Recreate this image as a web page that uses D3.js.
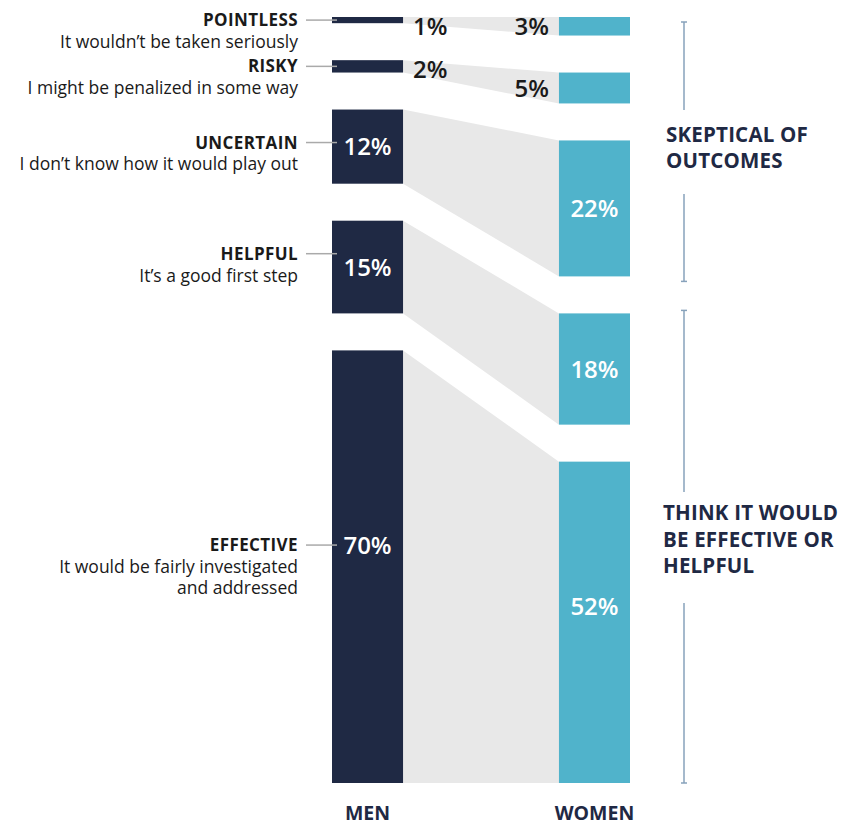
<!DOCTYPE html>
<html>
<head>
<meta charset="utf-8">
<script src="https://cdn.jsdelivr.net/npm/d3@7"></script>
<style>
  html, body { margin: 0; padding: 0; background: #fff; }
  svg { display: block; font-family: "Open Sans", Lato, sans-serif; }
</style>
</head>
<body>
<svg id="chart" width="847" height="824"></svg>
<script>
// ---- data ----
const categories = ["POINTLESS", "RISKY", "UNCERTAIN", "HELPFUL", "EFFECTIVE"];
const descriptions = [
  ["It wouldn’t be taken seriously"],
  ["I might be penalized in some way"],
  ["I don’t know how it would play out"],
  ["It’s a good first step"],
  ["It would be fairly investigated", "and addressed"]
];
const men = [1, 2, 12, 15, 70];
const women = [3, 5, 22, 18, 52];
const groups = ["MEN", "WOMEN"];
const bracketLabels = [["SKEPTICAL OF", "OUTCOMES"], ["THINK IT WOULD", "BE EFFECTIVE OR", "HELPFUL"]];
const bracketMembers = [[0, 1, 2], [3, 4]];

(function () {
// ---- layout ----
const svg = d3.select("#chart");
const topY = 17, bottomY = 783, gap = 37;
const navy = "#1f2944", teal = "#50b3cb", band = "#e8e8e8", ink = "#1a1a1a";

const x = d3.scaleBand().domain(groups).range([332, 630]).paddingInner(0.687).paddingOuter(0);
const h = d3.scaleLinear().domain([0, 100]).range([0, (bottomY - topY) - gap * (categories.length - 1)]);

function stack(vals) {
  let y = topY;
  return vals.map((v, i) => {
    const s = { i, v, y0: y, y1: y + h(v) };
    y = s.y1 + gap;
    return s;
  });
}
const series = [stack(men), stack(women)];
const maxIdx = series.map(s => d3.maxIndex(s, d => d.v));
function labelY(sIdx, d) {
  const f = d.i === maxIdx[sIdx] ? 0.45 : 0.5;
  return d.y0 + (d.y1 - d.y0) * f;
}

const xm0 = x("MEN") + x.bandwidth();
const xw0 = x("WOMEN");

// connecting bands
svg.append("g").selectAll("path")
  .data(categories.map((c, i) => [series[0][i], series[1][i]]))
  .join("path")
  .attr("d", ([m, w]) => `M${xm0},${m.y0}L${xw0},${w.y0}L${xw0},${w.y1}L${xm0},${m.y1}Z`)
  .attr("fill", band);

// bars
groups.forEach((g, gi) => {
  svg.append("g").selectAll("rect")
    .data(series[gi])
    .join("rect")
    .attr("x", x(g))
    .attr("width", x.bandwidth())
    .attr("y", d => d.y0)
    .attr("height", d => d.y1 - d.y0)
    .attr("fill", gi === 0 ? navy : teal);
});

// value labels
const valFont = 24;
series.forEach((s, gi) => {
  svg.append("g").selectAll("text")
    .data(s)
    .join("text")
    .attr("font-size", valFont)
    .attr("font-weight", 600)
    .each(function (d) {
      const t = d3.select(this);
      const hgt = d.y1 - d.y0;
      const inside = hgt > 40;
      if (inside) {
        t.attr("x", x(groups[gi]) + x.bandwidth() / 2)
          .attr("y", labelY(gi, d))
          .attr("dy", "0.36em")
          .attr("text-anchor", "middle")
          .attr("fill", "#fff");
      } else if (gi === 0) {
        t.attr("x", xm0 + 10)
          .attr("y", d.y0 + 18)
          .attr("text-anchor", "start")
          .attr("fill", ink);
      } else {
        t.attr("x", xw0 - 10)
          .attr("y", (d.y0 + d.y1) / 2)
          .attr("dy", "0.36em")
          .attr("text-anchor", "end")
          .attr("fill", ink);
      }
      t.text(d.v + "%");
    });
});

// category labels + leader lines
const catG = svg.append("g");
series[0].forEach((d, i) => {
  const y = d.i === maxIdx[0] ? labelY(0, d) : Math.min(labelY(0, d), d.y0 + 33);
  catG.append("line")
    .attr("x1", 306).attr("x2", 337)
    .attr("y1", y).attr("y2", y)
    .attr("stroke", "#aaaaaa").attr("stroke-width", 1.5);
  const t = catG.append("text")
    .attr("x", 298)
    .attr("text-anchor", "end")
    .attr("fill", ink);
  t.append("tspan")
    .attr("x", 298).attr("y", y).attr("dy", "0.36em")
    .attr("font-size", 17).attr("font-weight", 700)
    .attr("letter-spacing", 0.4)
    .text(categories[i]);
  descriptions[i].forEach((line, li) => {
    t.append("tspan")
      .attr("x", 298).attr("y", y + 21.5 * (li + 1)).attr("dy", "0.36em")
      .attr("font-size", 17.5).attr("font-weight", 400)
      .attr("letter-spacing", 0)
      .text(line);
  });
});

// group axis labels
svg.append("g").selectAll("text")
  .data(groups)
  .join("text")
  .attr("x", d => x(d) + x.bandwidth() / 2)
  .attr("y", 813)
  .attr("dy", "0.36em")
  .attr("text-anchor", "middle")
  .attr("font-size", 19.5)
  .attr("font-weight", 700)
  .attr("fill", navy)
  .text(d => d);

// brackets
const bx = 684, bracketColor = "#87a2bb";
const bracketRanges = [
  [series[1][bracketMembers[0][0]].y0 + 5, series[1][bracketMembers[0][2]].y1 + 5],
  [series[1][bracketMembers[1][0]].y0 - 3, series[1][bracketMembers[1][1]].y1]
];
const textCenters = [147.5, 539.5];
const textGaps = [[110, 194], [492, 603]];
const brG = svg.append("g");
bracketRanges.forEach(([y0, y1], bi) => {
  const [g0, g1] = textGaps[bi];
  brG.append("line").attr("x1", bx).attr("x2", bx).attr("y1", y0).attr("y2", g0)
    .attr("stroke", bracketColor).attr("stroke-width", 1.5);
  brG.append("line").attr("x1", bx).attr("x2", bx).attr("y1", g1).attr("y2", y1)
    .attr("stroke", bracketColor).attr("stroke-width", 1.5);
  [y0, y1].forEach(yy => {
    brG.append("line").attr("x1", bx - 3).attr("x2", bx + 3).attr("y1", yy).attr("y2", yy)
      .attr("stroke", bracketColor).attr("stroke-width", 1.5);
  });
  const lines = bracketLabels[bi];
  const lh = 26.5;
  const startY = textCenters[bi] - (lines.length - 1) * lh / 2;
  const t = brG.append("text").attr("fill", navy).attr("font-size", 20.5).attr("font-weight", 700)
    .attr("letter-spacing", 0.2);
  lines.forEach((l, li) => {
    t.append("tspan").attr("x", bi === 0 ? 666 : 663).attr("y", startY + li * lh).attr("dy", "0.36em").text(l);
  });
});
})();
</script>
</body>
</html>
